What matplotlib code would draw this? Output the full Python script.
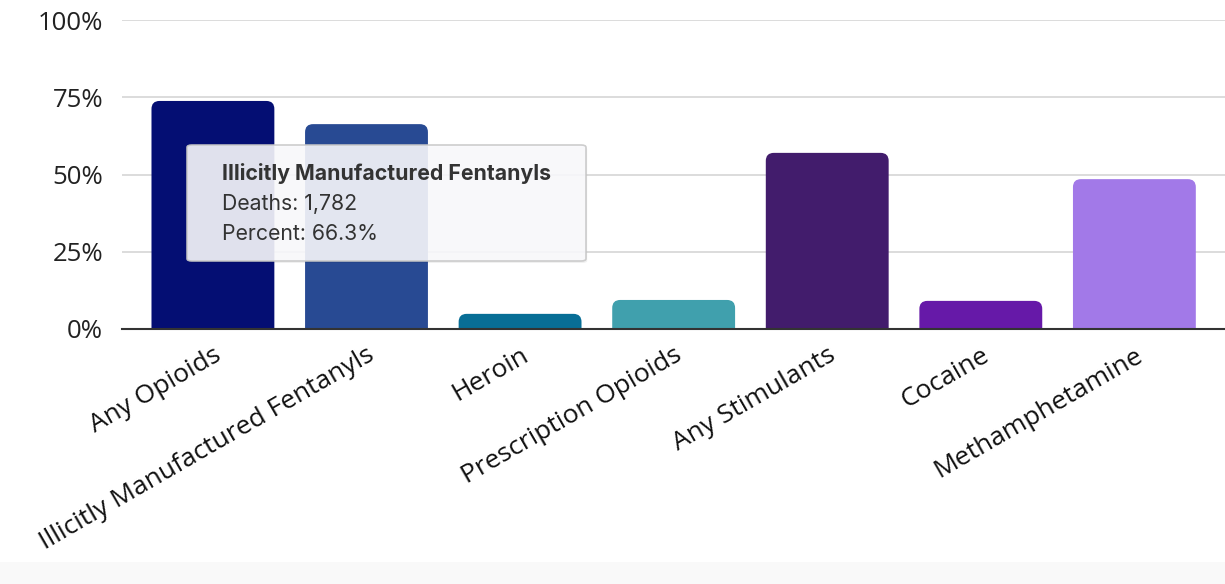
import matplotlib
matplotlib.use("Agg")
import matplotlib.pyplot as plt
from matplotlib.path import Path
from matplotlib.patches import PathPatch, FancyBboxPatch, Rectangle

categories = ["Any Opioids", "Illicitly Manufactured Fentanyls", "Heroin",
              "Prescription Opioids", "Any Stimulants", "Cocaine", "Methamphetamine"]
percent = [73.8, 66.3, 4.9, 9.4, 57.0, 9.1, 48.5]
colors = ["#040E73", "#284A93", "#086E96", "#40A0AD", "#421C6C", "#6619A8", "#A279E8"]
yticks = [0, 25, 50, 75, 100]
ytick_labels = ["0%", "25%", "50%", "75%", "100%"]
tooltip_title = "Illicitly Manufactured Fentanyls"
tooltip_lines = ["Deaths: 1,782", "Percent: 66.3%"]

W, H = 1225, 584
fig = plt.figure(figsize=(W / 100, H / 100), dpi=100)
fig.patch.set_facecolor("white")
# light strip at bottom
fig.patches.append(Rectangle((0, 0), 1, 22 / H, transform=fig.transFigure,
                             facecolor="#f9f9f9", edgecolor="none", zorder=0))

ax = fig.add_axes([122 / W, 1 - 329 / H, 1 - 122 / W, (329 - 20) / H])
ax.set_facecolor("none")
font = "Open Sans"

x = list(range(len(categories)))
bars = ax.bar(x, percent, width=0.8, color=colors)
ax.set_xlim(-0.592, 6.59)
ax.set_ylim(0, 100)

# pixel scale for rounded corners
px_x = (6.59 + 0.592) / (W - 122)
px_y = 100 / (329 - 20)
r = 8
for b, c in zip(bars, colors):
    x0 = b.get_x(); w = b.get_width(); h = b.get_height()
    rx = r * px_x; ry = min(r * px_y, h)
    verts = [(x0, 0), (x0, h - ry), (x0, h), (x0 + rx, h),
             (x0 + w - rx, h), (x0 + w, h), (x0 + w, h - ry), (x0 + w, 0), (x0, 0)]
    codes = [Path.MOVETO, Path.LINETO, Path.CURVE3, Path.CURVE3,
             Path.LINETO, Path.CURVE3, Path.CURVE3, Path.LINETO, Path.CLOSEPOLY]
    ax.add_patch(PathPatch(Path(verts, codes), facecolor=c, edgecolor="none", zorder=3))
    b.set_visible(False)

ax.set_yticks(yticks)
ax.set_yticklabels(ytick_labels, fontsize=18.5, family=font, color="#222222")
ax.set_xticks(x)
ax.set_xticklabels(categories, rotation=30, ha="right", rotation_mode="anchor",
                   fontsize=19, family=font, color="#111111")
ax.tick_params(axis="both", length=0)
ax.tick_params(axis="y", pad=13.5)
ax.tick_params(axis="x", pad=10)
ax.grid(axis="y", color="#d9d9d9", linewidth=1.3, zorder=0)
ax.set_axisbelow(True)
for s in ["top", "right", "left"]:
    ax.spines[s].set_visible(False)
ax.spines["bottom"].set_color("#333333")
ax.spines["bottom"].set_linewidth(1.5)
ax.spines["bottom"].set_zorder(4)

# tooltip
bx0, by0, bx1, by1 = 187, 145, 586, 261
shadow = FancyBboxPatch((bx0 / W + 0.001, 1 - (by1 + 2) / H), (bx1 - bx0) / W, (by1 - by0) / H,
                        boxstyle="round,pad=0,rounding_size=0.004", transform=fig.transFigure,
                        facecolor="#000000", alpha=0.06, edgecolor="none", zorder=5)
fig.patches.append(shadow)
box = FancyBboxPatch((bx0 / W, 1 - by1 / H), (bx1 - bx0) / W, (by1 - by0) / H,
                     boxstyle="round,pad=0,rounding_size=0.004", transform=fig.transFigure,
                     facecolor=(0.975, 0.978, 0.99), alpha=0.9, edgecolor="#c8c8c8",
                     linewidth=1.2, zorder=6)
fig.patches.append(box)
fig.text(222 / W, 1 - 174 / H, tooltip_title, fontsize=15.3, fontweight="bold", family="Inter",
         color="#333333", va="center", ha="left", zorder=7)
for i, line in enumerate(tooltip_lines):
    fig.text(222 / W, 1 - (204 + 30 * i) / H, line, fontsize=15.3, family="Inter",
             color="#333333", va="center", ha="left", zorder=7)

fig.savefig("out.png", dpi=100)
